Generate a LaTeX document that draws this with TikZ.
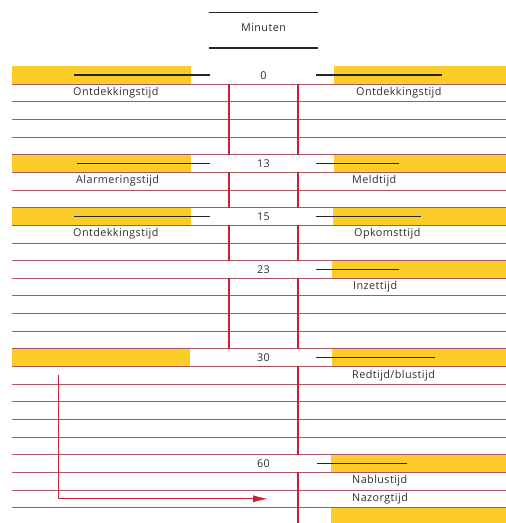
\documentclass[tikz,border=0pt]{standalone}
\usepackage{fontspec}
\newfontfamily\lbl[LetterSpace=4]{Open Sans}
\usetikzlibrary{arrows.meta}

\definecolor{balkgeel}{RGB}{252,204,40}
\definecolor{lijnrood}{RGB}{170,85,95}
\definecolor{asrood}{RGB}{205,30,55}
\definecolor{tekstgrijs}{RGB}{45,45,45}

\begin{document}
\begin{tikzpicture}[x=1pt, y=-1pt,
    every node/.style={font=\lbl\fontsize{10.8}{12}\selectfont, text=tekstgrijs, inner sep=0pt},
    balk/.style={fill=balkgeel, draw=none},
    streep/.style={line width=1.6pt, black!85},
    regel/.style={line width=0.7pt, lijnrood},
    as/.style={line width=1.4pt, asrood},
    pijl/.style={line width=0.9pt, asrood, -{Latex[length=15pt, width=7pt]}}]

        \useasboundingbox (0,0) rectangle (506,523);

        % Gele balken
        \fill[balk] (12,66.35) rectangle (191,84);
        \fill[balk] (334,66.35) rectangle (506,84);
        \fill[balk] (12,154.6) rectangle (191,172.25);
        \fill[balk] (334,154.6) rectangle (506,172.25);
        \fill[balk] (12,207.55) rectangle (191,225.2);
        \fill[balk] (333,207.55) rectangle (506,225.2);
        \fill[balk] (332,260.5) rectangle (506,278.15);
        \fill[balk] (12,348.75) rectangle (190,366.4);
        \fill[balk] (332,348.75) rectangle (506,366.4);
        \fill[balk] (331,454.65) rectangle (506,472.3);
        \fill[balk] (331,507.6) rectangle (506,523);

        % Regels
        \foreach \k in {0,...,24}
            \draw[regel] (12,{84+17.65*\k}) -- (506,{84+17.65*\k});

        % Assen (onderbroken bij de getallen)
        \draw[as] (229,84) -- (229,154.6);
        \draw[as] (229,172.25) -- (229,207.55);
        \draw[as] (229,225.2) -- (229,260.5);
        \draw[as] (229,278.15) -- (229,348.75);
        \draw[as] (298,84) -- (298,154.6);
        \draw[as] (298,172.25) -- (298,207.55);
        \draw[as] (298,225.2) -- (298,260.5);
        \draw[as] (298,278.15) -- (298,348.75);
        \draw[as] (298,366.4) -- (298,454.65);
        \draw[as] (298,472.3) -- (298,523);

        % Titel
        \draw[streep] (209,12.3) -- (318,12.3);
        \node (titel) at (263.5,28) {Minuten};
        \draw[streep] (209,47.7) -- (318,47.7);

        % Zwarte strepen
        \draw[streep] (74,75.2) -- (210,75.2);
        \draw[streep] (316,75.2) -- (442,75.2);
        \draw[streep] (77,163.4) -- (210,163.4);
        \draw[streep] (316,163.4) -- (399,163.4);
        \draw[streep] (74,216.4) -- (210,216.4);
        \draw[streep] (316,216.4) -- (421,216.4);
        \draw[streep] (316,269.3) -- (399,269.3);
        \draw[streep] (316,357.6) -- (435,357.6);
        \draw[streep] (317,463.5) -- (407,463.5);

        % Minuten
        \node (m0) at (263.5,75.2) {0};
        \node (m13) at (263.5,163.4) {13};
        \node (m15) at (263.5,216.4) {15};
        \node (m23) at (263.5,269.3) {23};
        \node (m30) at (263.5,357.6) {30};
        \node (m60) at (263.5,463.5) {60};

        % Links
        \node[anchor=west] (ontdekL) at (73,92.8) {Ontdekkingstijd};
        \node[anchor=west] (alarm) at (76,181.1) {Alarmeringstijd};
        \node[anchor=west] (ontdekL2) at (73,234) {Ontdekkingstijd};

        % Rechts
        \node[anchor=west] (ontdekR) at (356,92.8) {Ontdekkingstijd};
        \node[anchor=west] (meld) at (352,181.1) {Meldtijd};
        \node[anchor=west] (opkomst) at (354,234) {Opkomsttijd};
        \node[anchor=west] (inzet) at (353,287) {Inzettijd};
        \node[anchor=west] (red) at (352,375.2) {Redtijd/blustijd};
        \node[anchor=west] (nablus) at (352,481.1) {Nablustijd};
        \node[anchor=west] (nazorg) at (352,498.8) {Nazorgtijd};

        % Pijl
        \coordinate (pijlbegin) at (58.7,375.2);
        \coordinate (pijleind) at (268,498.8);
        \draw[pijl] (pijlbegin) |- (pijleind);
    \end{tikzpicture}
\end{document}
